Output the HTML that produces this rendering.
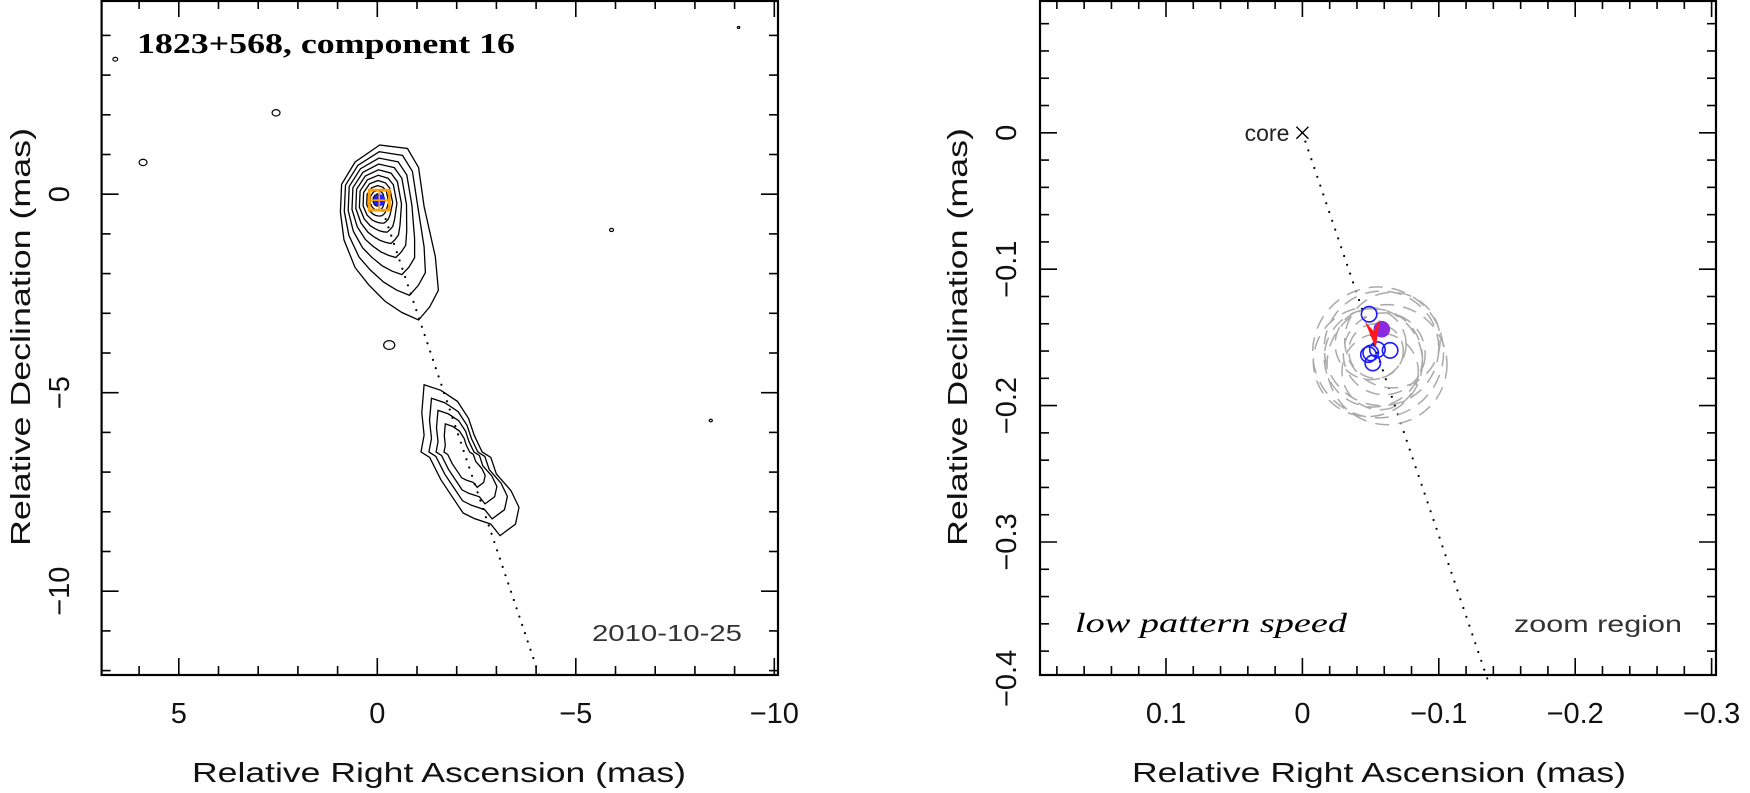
<!DOCTYPE html>
<html><head><meta charset="utf-8"><style>
html,body{margin:0;padding:0;background:#fff}
svg{display:block}
</style></head><body>
<svg id="chart" width="1750" height="793" viewBox="0 0 1750 793" xmlns="http://www.w3.org/2000/svg" font-family="Liberation Sans, sans-serif">
<g id="left"></g>
<g id="right"></g>
</svg>
<script>
// ---------- data ----------
const leftXTicks = [5, 0, -5, -10];
const leftYTicks = [0, -5, -10];
const rightXTicks = [0.1, 0, -0.1, -0.2, -0.3];
const rightYTicks = [0, -0.1, -0.2, -0.3, -0.4];
const coreOuter = [[-0.06,1.24],[-0.76,1.15],[-1.04,0.67],[-1.18,-0.31],[-1.46,-1.57],[-1.54,-2.42],[-1.32,-2.84],[-1.04,-3.17],[-0.62,-2.98],[-0.2,-2.7],[0.22,-2.28],[0.56,-1.85],[0.84,-1.15],[0.93,-0.45],[0.9,0.25],[0.56,0.81]];
const coreScales = [1,0.9,0.8,0.7,0.6,0.5,0.4,0.3,0.2,0.12];
const jetOuter = [[-1.18,-4.8],[-1.6,-4.94],[-2.02,-5.22],[-2.3,-5.65],[-2.44,-6.07],[-2.64,-6.49],[-2.86,-6.63],[-3.0,-7.05],[-3.37,-7.47],[-3.57,-7.89],[-3.48,-8.31],[-3.09,-8.6],[-2.86,-8.31],[-2.44,-8.17],[-2.16,-8.03],[-1.88,-7.61],[-1.6,-7.19],[-1.32,-6.63],[-1.1,-6.49],[-1.18,-6.07],[-1.12,-5.5]];
const jetScales = [1,0.8,0.62,0.42];
const smallBlobs = [[6.6,3.4,0.06],[2.55,2.05,0.1],[5.9,0.8,0.1],[-0.3,-3.8,0.14],[-5.9,-0.9,0.05],[-8.4,-5.7,0.04],[-9.1,4.2,0.03]];
const jetLineEnd = [-4.07,-12.1];
const coreMarker = [-0.05,-0.15];
const zoomLineEnd = [-0.1355,-0.4];
const blueCircles = [[-0.0489,-0.133],[-0.0484,-0.1626],[-0.0516,-0.1688],[-0.055,-0.159],[-0.0643,-0.1595],[-0.0501,-0.1614]];
const purplePoint = [-0.0582,-0.144];
const dashedCircles = [[-0.0555,-0.161,0.048],[-0.058,-0.158,0.042],[-0.052,-0.165,0.036],[-0.06,-0.162,0.03],[-0.05,-0.155,0.026],[-0.062,-0.17,0.044],[-0.054,-0.16,0.02],[-0.048,-0.168,0.04],[-0.066,-0.152,0.035],[-0.057,-0.175,0.028]];

// ---------- scales ----------
const L = {x0:101.6,x1:778,y0:0,y1:675, sx:39.7, cx:377.3, cy:194.2};
const R = {x0:1040,x1:1716,y0:0,y1:675, sx:1364, cx:1302.4, cy:132.8};
const lx = v => L.cx - v*L.sx, ly = v => L.cy - v*L.sx;
const rx = v => R.cx - v*R.sx, ry = v => R.cy - v*R.sx;
const NS='http://www.w3.org/2000/svg';
function mk(parent, tag, attrs, txt){const e=document.createElementNS(NS,tag);for(const k in attrs)e.setAttribute(k,attrs[k]);if(txt!==undefined)e.textContent=txt;parent.appendChild(e);return e;}
const gl=document.getElementById('left'), gr=document.getElementById('right');

function frame(g,P,fx,fy,xmin,xmax,ymin,ymax,step,major){
  let f=mk(g,'rect',{x:P.x0,y:P.y0+1,width:P.x1-P.x0,height:P.y1-P.y0-1,fill:'none',stroke:'#000','stroke-width':2.2});
  
  
  const n0=Math.ceil(xmin/step-1e-6), n1=Math.floor(xmax/step+1e-6);
  for(let i=n0;i<=n1;i++){const v=i*step;const X=fx(v);if(X<P.x0||X>P.x1)continue;const isM=Math.abs(v/major-Math.round(v/major))<1e-6;const len=isM?17:9;
    let t=mk(g,'line',{x1:X,x2:X,y1:P.y1,y2:P.y1-len,stroke:'#000','stroke-width':1.6});
    
    let t2=mk(g,'line',{x1:X,x2:X,y1:P.y0,y2:P.y0+len,stroke:'#000','stroke-width':1.6});
    }
  const m0=Math.ceil(ymin/step-1e-6), m1=Math.floor(ymax/step+1e-6);
  for(let i=m0;i<=m1;i++){const v=i*step;const Y=fy(v);if(Y<P.y0||Y>P.y1)continue;const isM=Math.abs(v/major-Math.round(v/major))<1e-6;const len=isM?17:9;
    let t=mk(g,'line',{x1:P.x0,x2:P.x0+len,y1:Y,y2:Y,stroke:'#000','stroke-width':1.6});
    
    let t2=mk(g,'line',{x1:P.x1,x2:P.x1-len,y1:Y,y2:Y,stroke:'#000','stroke-width':1.6});
    }
}
function lbl(v){return String(v).replace('-','\u2212');}
function labels(g,fx,fy,xt,yt,ylx,xtitleX,ytitleX,ytitleY){
  xt.forEach(v=>{let t=mk(g,'text',{x:fx(v),y:723,'text-anchor':'middle','font-size':29,fill:'#111'},lbl(v));
    });
  yt.forEach(v=>{const Y=fy(v);let t=mk(g,'text',{x:ylx,y:Y,'text-anchor':'middle','font-size':29,fill:'#111',transform:`rotate(-90 ${ylx} ${Y})`},lbl(v));
    });
  let xt2=mk(g,'text',{x:xtitleX,y:782,'text-anchor':'middle','font-size':28,fill:'#111',textLength:494,lengthAdjust:'spacingAndGlyphs'},'Relative Right Ascension (mas)');
  
  let yt2=mk(g,'text',{x:ytitleX,y:ytitleY,'text-anchor':'middle','font-size':28,fill:'#111',textLength:418,lengthAdjust:'spacingAndGlyphs',transform:`rotate(-90 ${ytitleX} ${ytitleY})`},'Relative Declination (mas)');
  
}
function blendPath(pts,cx,cy,s,fx,fy,rad){
  const a=s*s;
  return pts.map((p,i)=>{const dx=p[0]-cx,dy=p[1]-cy,d=Math.hypot(dx,dy)||1;
    const qx=cx+dx*s*a+(1-a)*rad*s*dx/d*0.85, qy=cy+dy*s*a+(1-a)*rad*s*dy/d*1.1;
    return (i?'L':'M')+fx(qx).toFixed(1)+','+fy(qy).toFixed(1);}).join(' ')+'Z';}
function shapePath(pts,cx,cy,s,fx,fy){return pts.map((p,i)=>(i?'L':'M')+fx(cx+(p[0]-cx)*s).toFixed(1)+','+fy(cy+(p[1]-cy)*s).toFixed(1)).join(' ')+'Z';}
function dotted(g,fx,fy,a,b,n,r,name){for(let i=0;i<=n;i++){const t=i/n;let c=mk(g,'circle',{cx:fx(a[0]+(b[0]-a[0])*t),cy:fy(a[1]+(b[1]-a[1])*t),r:r,fill:'#000'});
  }}

// ---------- left panel ----------
frame(gl,L,lx,ly,-10.2,7,-12.2,5,1,5);
labels(gl,lx,ly,leftXTicks,leftYTicks,69,439,30,337);
dotted(gl,lx,ly,[0,0],jetLineEnd,58,1.1,'jet-axis-dot');
coreScales.forEach(s=>{let p=mk(gl,'path',{d:blendPath(coreOuter,0,-0.15,s,lx,ly,1.1),fill:'none',stroke:'#000','stroke-width':1.3});
  });
jetScales.forEach(s=>{let p=mk(gl,'path',{d:shapePath(jetOuter,-2.1,-6.5,s,lx,ly),fill:'none',stroke:'#000','stroke-width':1.3});
  });
smallBlobs.forEach(b=>{let e=mk(gl,'ellipse',{cx:lx(b[0]),cy:ly(b[1]),rx:b[2]*L.sx,ry:b[2]*L.sx*0.8,fill:'none',stroke:'#000','stroke-width':1.2});
  });
{const X=lx(coreMarker[0]),Y=ly(coreMarker[1]);
 let b=mk(gl,'circle',{cx:X,cy:Y,r:6,fill:'#2020ff'});
 let sq=mk(gl,'rect',{x:X-10,y:Y-10,width:20,height:20,fill:'none',stroke:'#ffa000','stroke-width':2.8});
 let c1=mk(gl,'path',{d:`M${X-10},${Y}H${X+10}M${X},${Y-10}V${Y+10}`,stroke:'#ffa000','stroke-width':1.6});}
let tt=mk(gl,'text',{x:137,y:53,'font-size':28,fill:'#000',style:'font-family:"Liberation Serif",serif;font-weight:bold',textLength:378,lengthAdjust:'spacingAndGlyphs'},'1823+568, component 16');

let dt=mk(gl,'text',{x:742,y:641,'text-anchor':'end','font-size':23,fill:'#333',textLength:150,lengthAdjust:'spacingAndGlyphs'},'2010-10-25');


// ---------- right panel ----------
frame(gr,R,rx,ry,-0.31,0.2,-0.41,0.1,0.02,0.1);
labels(gr,rx,ry,rightXTicks,rightYTicks,1016,1379,967,337);
dotted(gr,rx,ry,[0,0],zoomLineEnd,62,1.1,'jet-axis-dot');
dashedCircles.forEach(c=>{let e=mk(gr,'circle',{cx:rx(c[0]),cy:ry(c[1]),r:c[2]*R.sx,fill:'none',stroke:'#aaa','stroke-width':1.5,'stroke-dasharray':'14 9'});
  });
blueCircles.forEach(c=>{let e=mk(gr,'circle',{cx:rx(c[0]),cy:ry(c[1]),r:7.7,fill:'none',stroke:'#1a1aff','stroke-width':1.6});
  });
{let p=mk(gr,'circle',{cx:rx(purplePoint[0]),cy:ry(purplePoint[1]),r:8.3,fill:'#8a2be2'});
 const X=rx(purplePoint[0]),Y=ry(purplePoint[1]);
 let a=mk(gr,'path',{d:`M${X-17},${Y-8}L${X-8},${Y+2}L${X-2},${Y-10}L${X-6},${Y+19}Z`,fill:'#ff1a1a'});}
{const X=rx(0),Y=ry(0);
 let x=mk(gr,'path',{d:`M${X-6},${Y-6}L${X+6},${Y+6}M${X-6},${Y+6}L${X+6},${Y-6}`,stroke:'#000','stroke-width':1.4});
 let ct=mk(gr,'text',{x:X-13,y:Y+8,'text-anchor':'end','font-size':23,fill:'#222'},'core');}
let ls=mk(gr,'text',{x:1075,y:632,'font-size':27,fill:'#000',style:'font-family:"Liberation Serif",serif;font-style:italic',textLength:272,lengthAdjust:'spacingAndGlyphs'},'low pattern speed');

let zr=mk(gr,'text',{x:1682,y:632,'text-anchor':'end','font-size':23,fill:'#333',textLength:168,lengthAdjust:'spacingAndGlyphs'},'zoom region');

</script>
</body></html>
